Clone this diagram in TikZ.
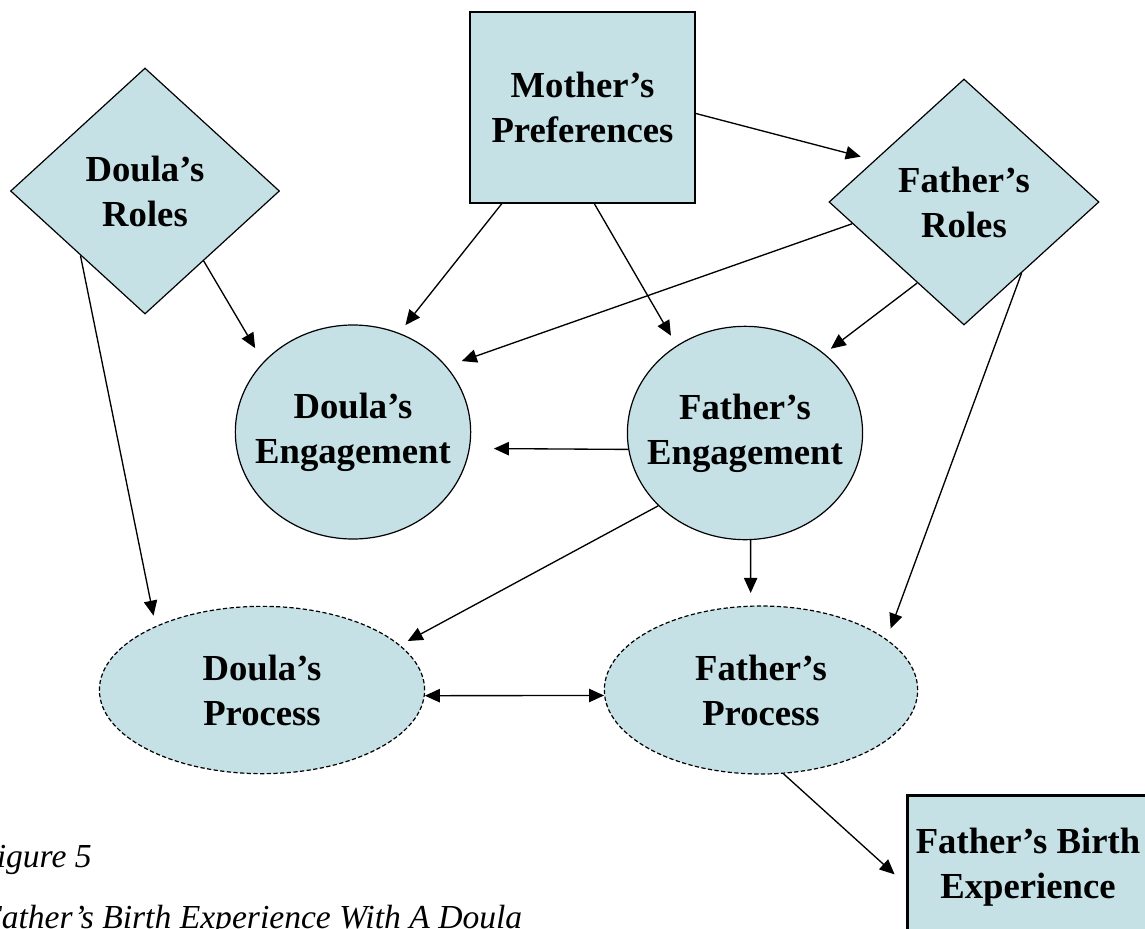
\documentclass[tikz,border=0pt]{standalone}
\usepackage{fontspec}
\setmainfont{Liberation Serif}
\usetikzlibrary{arrows.meta,shapes.geometric}

\begin{document}
\begin{tikzpicture}[x=0.75pt,y=0.75pt,yscale=-1,xscale=1,
  >={Triangle[length=11.25pt,width=10pt]},
  shp/.style={draw, line width=0.9pt, fill={rgb, 255:red, 197; green, 225; blue, 230}, inner sep=0pt, align=center, font=\bfseries\fontsize{27.5}{33.75}\selectfont},
  dia/.style={shp, diamond, minimum width=201.75pt, minimum height=184.5pt},
  ell/.style={shp, ellipse},
  dsh/.style={dash pattern=on 3.2pt off 1.8pt},
  lbl/.style={inner sep=0pt, align=center, font=\bfseries\fontsize{27.5}{33.75}\selectfont},
  captxt/.style={inner sep=0pt, anchor=base west, font=\itshape\fontsize{25.2}{30}\selectfont},
  arr/.style={draw, line width=1pt, ->}
]
\useasboundingbox (0,0) rectangle (1145,928);

%Shape: Rectangle [mother]
\node[shp, minimum width=168.75pt, minimum height=143.25pt] (mpref) at (582.5,107.5) {Mother’s\\Preferences};
%Shape: Diamond [roles]
\node[dia] (droles) at (145,191) {Doula’s\\Roles};
\node[dia, minimum width=202.5pt] (froles) at (964,202) {Father’s\\Roles};
%Shape: Ellipse [engagement]
\node[ell, minimum width=176.5pt, minimum height=160.5pt] (deng) at (353,432) {};
\node[lbl] (dengtxt) at (deng) {Doula’s\\Engagement};
\node[ell, minimum width=176.4pt, minimum height=160pt] (feng) at (745,433) {};
\node[lbl] (fengtxt) at (feng) {Father’s\\Engagement};
%Shape: Ellipse [process, dashed]
\node[ell, dsh, minimum width=243.9pt, minimum height=125.5pt] (dproc) at (262,690) {};
\node[lbl] (dproctxt) at (dproc) {Doula’s\\Process};
\node[ell, dsh, minimum width=235pt, minimum height=126pt] (fproc) at (761,690) {};
\node[lbl] (fproctxt) at (fproc) {Father’s\\Process};
%Shape: Rectangle [birth experience]
\node[shp, line width=2.25pt, minimum width=181.5pt, minimum height=108pt] (fbirth) at (1028,867) {Father’s Birth\\Experience};

%Straight Lines [arrows]
\draw[arr, shorten >=10.5pt] (mpref.-3) -- (froles.155);
\draw[arr, shorten >=7.5pt] (mpref.230) -- (deng.65.7);
\draw[arr, shorten >=8.5pt] (mpref.-83.7) -- (feng.128);
\draw[arr, shorten >=12pt] (droles.-50) -- (deng.142.3);
\draw[arr, shorten >=8pt] (droles.225) -- (dproc.149);
\draw[arr, shorten >=12pt] (froles.191.8) -- (deng.35.9);
\draw[arr, shorten >=6pt] (froles.240.4) -- (feng.45.8);
\draw[arr, shorten >=8.5pt] (froles.-51) -- (fproc.22.9);
\draw[arr, shorten >=18pt] (feng.188) -- (deng.-8.5);
\draw[arr, shorten >=6.5pt] (feng.220.9) -- (dproc.18.6);
\draw[arr, shorten >=9.5pt] (feng.-87.3) -- (fproc.97.5);
\draw[arr, <->] (dproc.-2.1) -- (fproc.182.2);
\draw[arr, shorten >=11pt] (fproc.-75) -- (fbirth.188.5);

%Caption
\node[captxt] (fignum) at (-24,867) {Figure 5};
\node[captxt] (figtitle) at (-19,928) {Father’s Birth Experience With A Doula};

\end{tikzpicture}
\end{document}
